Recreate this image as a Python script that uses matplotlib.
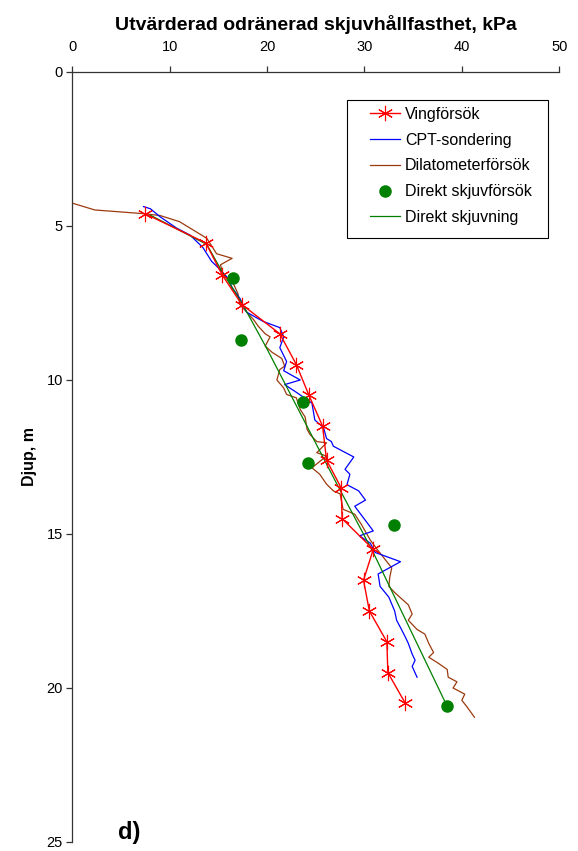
import matplotlib.pyplot as plt
from matplotlib.patches import Rectangle

plt.rcParams["font.family"] = ["Liberation Sans", "DejaVu Sans"]

# Vingförsök (vane tests)
vane_su = [7.45, 13.7, 15.4, 17.4, 21.3, 23.0, 24.3, 25.7, 26.1, 27.6, 27.7,
           30.9, 29.9, 30.5, 32.3, 32.4, 34.2]
vane_z = [4.6, 5.55, 6.6, 7.55, 8.5, 9.5, 10.5, 11.5, 12.6, 13.5, 14.5,
          15.5, 16.5, 17.5, 18.5, 19.5, 20.5]

# CPT-sondering
cpt_su = [7.3, 8.0, 9.0, 10.7, 12.1, 13.4, 14.3, 14.8, 16.0, 16.4, 17.2, 17.9,
          19.6, 21.3, 21.7, 21.3, 22.0, 21.7, 23.4, 21.8, 23.0, 24.6, 24.9,
          25.8, 26.1, 26.6, 26.8, 28.9, 28.0, 28.5, 28.2, 29.4, 30.1, 29.0,
          30.9, 29.5, 30.6, 31.1, 33.7, 31.4, 31.6, 32.5, 33.1, 33.3, 33.8,
          34.2, 34.5, 34.9, 35.2, 34.9, 35.4]
cpt_z = [4.37, 4.44, 4.7, 5.07, 5.3, 5.7, 6.15, 6.3, 6.7, 7.0, 7.35, 7.8,
         8.1, 8.3, 8.6, 8.95, 9.4, 9.7, 10.0, 10.15, 10.4, 10.75, 11.3,
         11.55, 11.9, 12.0, 12.15, 12.5, 12.9, 13.06, 13.4, 13.6, 13.9, 14.1,
         14.9, 15.06, 15.3, 15.6, 15.9, 16.3, 16.7, 17.05, 17.5, 17.8, 18.1,
         18.35, 18.55, 18.9, 19.1, 19.3, 19.65]

# Dilatometerförsök
dmt_su = [0.0, 2.3, 7.3, 9.0, 11.0, 13.8, 14.8, 16.4, 15.2, 15.5, 16.5, 17.0,
          17.2, 18.6, 19.1, 19.8, 20.3, 19.8, 20.5, 21.5, 21.8, 21.3, 21.0,
          21.7, 22.0, 23.0, 23.4, 23.9, 24.1, 24.4, 25.1, 26.1, 25.1, 26.1,
          24.6, 25.4, 26.1, 26.8, 27.5, 27.8, 28.2, 29.0, 29.7, 30.6, 31.3,
          32.3, 32.8, 32.6, 32.5, 33.1, 34.5, 34.9, 34.5, 35.4, 36.2, 36.6,
          37.1, 36.6, 37.6, 38.5, 38.6, 39.5, 39.1, 40.3, 40.0, 40.5, 41.3]
dmt_z = [4.26, 4.48, 4.6, 4.66, 4.86, 5.4, 5.9, 6.05, 6.26, 6.6, 6.85, 7.2,
         7.55, 8.04, 8.26, 8.5, 8.6, 8.9, 9.1, 9.3, 9.55, 9.66, 10.0,
         10.26, 10.47, 10.58, 10.96, 11.2, 11.6, 11.77, 12.0, 12.04, 12.36,
         12.47, 12.85, 13.06, 13.38, 13.6, 13.7, 14.2, 14.25, 14.36, 14.7,
         15.2, 15.5, 15.9, 16.1, 16.4, 16.7, 16.9, 17.3, 17.6, 17.8, 18.1,
         18.25, 18.55, 18.85, 19.0, 19.2, 19.4, 19.65, 19.8, 20.0, 20.2,
         20.4, 20.6, 20.95]

# Direkt skjuvförsök (direct shear tests)
ds_su = [16.5, 17.3, 23.7, 24.2, 33.0, 38.5]
ds_z = [6.7, 8.7, 10.7, 12.7, 14.7, 20.6]

# Direkt skjuvning (interpreted profile)
dsl_su = [8.0, 13.8, 15.4, 17.4, 20.0, 27.2, 30.9, 38.5]
dsl_z = [4.65, 5.6, 6.5, 7.5, 9.0, 13.4, 15.6, 20.6]

fig = plt.figure(figsize=(5.78, 8.51), dpi=100)
ax = fig.add_axes([0.1254, 0.0106, 0.842, 0.9048])

ax.plot(vane_su, vane_z, color="#FF0000", lw=1.0, marker=(6, 2, 0),
        markersize=11, markeredgewidth=0.8, label="Vingförsök", zorder=4)
ax.plot(cpt_su, cpt_z, color="#0000FF", lw=0.9, label="CPT-sondering", zorder=3)
ax.plot(dmt_su, dmt_z, color="#9C3A0E", lw=0.9, label="Dilatometerförsök", zorder=2)
ax.plot(ds_su, ds_z, ls="none", marker="o", markersize=8, color="#008000",
        label="Direkt skjuvförsök", zorder=5)
ax.plot(dsl_su, dsl_z, color="#008000", lw=0.9, label="Direkt skjuvning", zorder=3)

ax.set_xlim(0, 50)
ax.set_ylim(25, 0)
ax.set_xticks(range(0, 51, 10))
ax.set_yticks(range(0, 26, 5))
ax.xaxis.tick_top()
ax.xaxis.set_label_position("top")
ax.spines["right"].set_visible(False)
ax.spines["bottom"].set_visible(False)
for s in ("left", "top"):
    ax.spines[s].set_linewidth(0.9)
    ax.spines[s].set_color("#333333")
ax.tick_params(direction="out", length=4, width=0.9, labelsize=10.5,
               color="#333333", pad=3)
ax.tick_params(axis="x", pad=9)

ax.set_xlabel("Utvärderad odränerad skjuvhållfasthet, kPa", fontsize=14,
              fontweight="bold", labelpad=7)
ax.set_ylabel("Djup, m", fontsize=11.5, fontweight="bold", labelpad=7)

ax.text(0.094, 0.004, "d)", transform=ax.transAxes, fontsize=17,
        fontweight="bold")

# legend entries without frame, box drawn separately
leg = ax.legend(loc="upper left", bbox_to_anchor=(0.611, 0.955),
                fontsize=11.5, frameon=False, handlelength=1.9,
                borderpad=0, borderaxespad=0, labelspacing=0.68,
                handletextpad=0.3)
ax.add_patch(Rectangle((0.564, 0.785), 0.413, 0.179, transform=ax.transAxes,
                       facecolor="none", edgecolor="black", lw=0.8,
                       zorder=6, clip_on=False))

fig.savefig("out.png", dpi=100)
